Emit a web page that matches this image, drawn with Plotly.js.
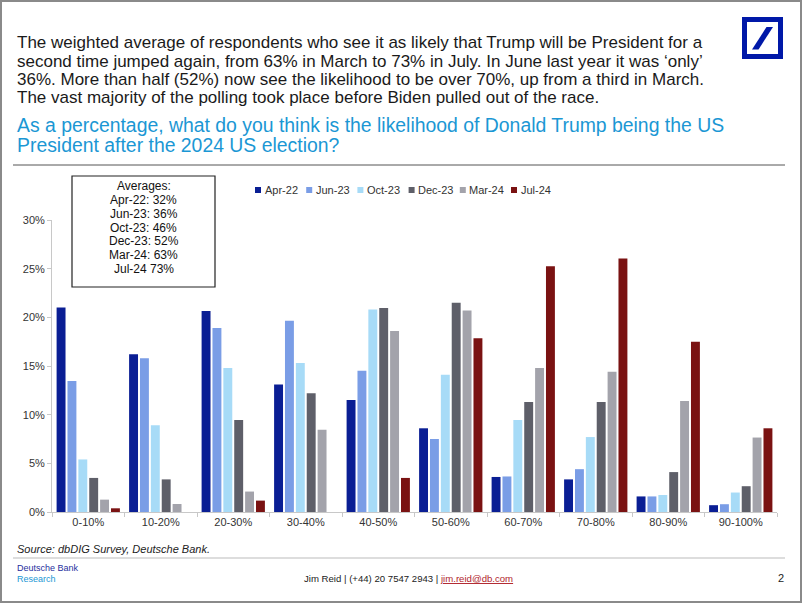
<!DOCTYPE html>
<html>
<head>
<meta charset="utf-8">
<script src="https://cdn.plot.ly/plotly-3.0.1.min.js"></script>
<style>
  html, body { margin: 0; padding: 0; background: #fff; }
  #wrap { position: relative; width: 802px; height: 603px; }
  #chart { width: 802px; height: 603px; }
  #frame { position: absolute; left: 0; top: 0; width: 802px; height: 603px; box-sizing: border-box; border: 2px solid #8a8a8a; pointer-events: none; }
</style>
</head>
<body>
<div id="wrap"><div id="chart"></div><div id="frame"></div></div>
<script>
// ---- data ----
const categories = ['0-10%','10-20%','20-30%','30-40%','40-50%','50-60%','60-70%','70-80%','80-90%','90-100%'];
const seriesNames = ['Apr-22','Jun-23','Oct-23','Dec-23','Mar-24','Jul-24'];
const apr22 = [21.0, 16.2, 20.65, 13.1, 11.5, 8.6, 3.6, 3.35, 1.6, 0.7];
const jun23 = [13.45, 15.8, 18.9, 19.65, 14.5, 7.5, 3.65, 4.4, 1.6, 0.8];
const oct23 = [5.4, 8.9, 14.8, 15.3, 20.8, 14.1, 9.45, 7.7, 1.75, 2.0];
const dec23 = [3.5, 3.35, 9.45, 12.2, 20.95, 21.5, 11.3, 11.3, 4.1, 2.65];
const mar24 = [1.27, 0.82, 2.1, 8.45, 18.6, 20.7, 14.8, 14.4, 11.4, 7.65];
const jul24 = [0.38, 0, 1.17, 0, 3.5, 17.85, 25.25, 26.05, 17.5, 8.6];
const averagesLines = ['Averages:', 'Apr-22: 32%', 'Jun-23: 36%', 'Oct-23: 46%', 'Dec-23: 52%', 'Mar-24: 63%', 'Jul-24 73%'];
const yTickVals = [0, 5, 10, 15, 20, 25, 30];
const yTickText = ['0%', '5%', '10%', '15%', '20%', '25%', '30%'];
const paragraphLines = [
  'The weighted average of respondents who see it as likely that Trump will be President for a',
  'second time jumped again, from 63% in March to 73% in July. In June last year it was \u2018only\u2019',
  '36%. More than half (52%) now see the likelihood to be over 70%, up from a third in March.',
  'The vast majority of the polling took place before Biden pulled out of the race.'
];
const questionLines = [
  'As a percentage, what do you think is the likelihood of Donald Trump being the US',
  'President after the 2024 US election?'
];

// ---- styling ----
const colors = ['#0a1e94', '#7a9de6', '#a7dbf7', '#5e5f69', '#a3a3ab', '#7a1212'];
const seriesValues = [apr22, jun23, oct23, dec23, mar24, jul24];

const L = 52, R = 777, T = 220, B = 512, W = 802, H = 603;
const px = x => (x - L) / (R - L);
const py = y => (B - y) / (B - T);

const SANS = '"Liberation Sans", Arial, Helvetica, sans-serif';

const traces = seriesNames.map((n, i) => ({
  type: 'bar', name: n, x: categories, y: seriesValues[i],
  marker: { color: colors[i] }, hoverinfo: 'x+y+name'
}));

const annotations = [];
const shapes = [];

paragraphLines.forEach((t, i) => annotations.push({
  xref: 'paper', yref: 'paper', x: px(15), y: py(43 + i * 18.3), xanchor: 'left', yanchor: 'middle',
  text: t, showarrow: false, font: { family: SANS, size: 17, color: '#1a1a1a' }
}));
questionLines.forEach((t, i) => annotations.push({
  xref: 'paper', yref: 'paper', x: px(15), y: py(125 + i * 20), xanchor: 'left', yanchor: 'middle',
  text: t, showarrow: false, font: { family: SANS, size: 19.4, color: '#1b97d4' }
}));

// averages box
shapes.push({ type: 'rect', xref: 'paper', yref: 'paper', x0: px(72), x1: px(215), y0: py(176), y1: py(287), line: { color: '#222', width: 1.2 }, fillcolor: '#fff' });
averagesLines.forEach((t, i) => annotations.push({
  xref: 'paper', yref: 'paper', x: px(143.5), y: py(186.5 + i * 13.7), xanchor: 'center', yanchor: 'middle',
  text: t, showarrow: false, borderpad: 0, font: { family: SANS, size: 12, color: '#111' }
}));

// legend (built from names and colors)
seriesNames.forEach((n, i) => {
  const x0 = 255 + i * 51.2;
  shapes.push({ type: 'rect', xref: 'paper', yref: 'paper', x0: px(x0), x1: px(x0 + 6), y0: py(187), y1: py(193), line: { width: 0 }, fillcolor: colors[i] });
  annotations.push({ xref: 'paper', yref: 'paper', x: px(x0 + 7.5), y: py(190), xanchor: 'left', yanchor: 'middle',
    text: n, showarrow: false, font: { family: SANS, size: 11, color: '#333' } });
});

// separator lines
shapes.push({ type: 'line', xref: 'paper', yref: 'paper', x0: px(13), x1: px(785), y0: py(165), y1: py(165), line: { color: '#555', width: 1 } });
shapes.push({ type: 'line', xref: 'paper', yref: 'paper', x0: px(13), x1: px(785), y0: py(558), y1: py(558), line: { color: '#bbb', width: 1 } });

// logo
shapes.push({ type: 'rect', xref: 'paper', yref: 'paper', x0: px(744.5), x1: px(780.5), y0: py(19.5), y1: py(56.5), line: { color: '#0018a8', width: 5 }, fillcolor: 'rgba(0,0,0,0)' });
const sl = [[752, 49.5], [758.5, 49.5], [773, 27], [766.5, 27]].map(p => [px(p[0]), py(p[1])]);
shapes.push({ type: 'path', xref: 'paper', yref: 'paper',
  path: 'M' + sl.map(p => p[0] + ',' + p[1]).join(' L') + ' Z', fillcolor: '#0018a8', line: { width: 0 } });

// footer
annotations.push({ xref: 'paper', yref: 'paper', x: px(15), y: py(549), xanchor: 'left', yanchor: 'middle',
  text: '<i>Source: dbDIG Survey, Deutsche Bank.</i>', showarrow: false, font: { family: SANS, size: 11, color: '#222' } });
annotations.push({ xref: 'paper', yref: 'paper', x: px(15), y: py(568), xanchor: 'left', yanchor: 'middle',
  text: 'Deutsche Bank', showarrow: false, font: { family: SANS, size: 9, color: '#1f2f9e' } });
annotations.push({ xref: 'paper', yref: 'paper', x: px(15), y: py(579), xanchor: 'left', yanchor: 'middle',
  text: 'Research', showarrow: false, font: { family: SANS, size: 9, color: '#1b97d4' } });
annotations.push({ xref: 'paper', yref: 'paper', x: px(408), y: py(578), xanchor: 'center', yanchor: 'middle',
  text: 'Jim Reid | (+44) 20 7547 2943 | <span style="color:#b0242c;text-decoration:underline">jim.reid@db.com</span>', showarrow: false, font: { family: SANS, size: 9.6, color: '#222' } });
annotations.push({ xref: 'paper', yref: 'paper', x: px(781), y: py(578), xanchor: 'center', yanchor: 'middle',
  text: '2', showarrow: false, font: { family: SANS, size: 11, color: '#222' } });

const layout = {
  width: W, height: H,
  margin: { l: L, r: W - R, t: T, b: H - B, pad: 0 },
  paper_bgcolor: '#fff', plot_bgcolor: '#fff',
  showlegend: false,
  barmode: 'group', bargap: 0.1, bargroupgap: 0.18,
  font: { family: SANS, size: 11, color: '#333' },
  xaxis: {
    type: 'category', showline: true, linecolor: '#c8c8c8', linewidth: 1,
    ticks: 'outside', tickson: 'boundaries', ticklen: 4, tickcolor: '#c8c8c8',
    showgrid: false, zeroline: false, fixedrange: true,
    tickfont: { family: SANS, size: 11, color: '#333' }
  },
  yaxis: {
    range: [0, 30], tickvals: yTickVals, ticktext: yTickText,
    showline: true, linecolor: '#c8c8c8', linewidth: 1,
    ticks: 'outside', ticklen: 4, tickcolor: '#c8c8c8',
    showgrid: false, zeroline: false, fixedrange: true,
    tickfont: { family: SANS, size: 11, color: '#333' }
  },
  annotations, shapes
};

Plotly.newPlot('chart', traces, layout, { displayModeBar: false, staticPlot: true });
</script>
</body>
</html>
